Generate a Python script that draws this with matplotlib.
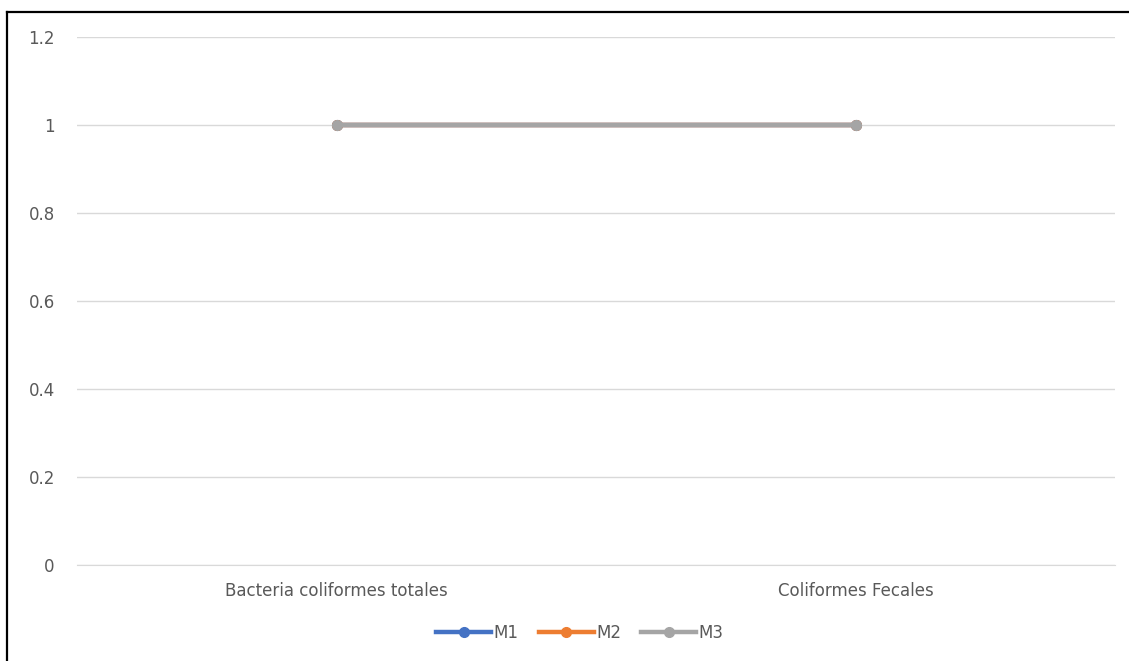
import matplotlib
matplotlib.use("Agg")
import matplotlib.pyplot as plt
from matplotlib.lines import Line2D

categories = ["Bacteria coliformes totales", "Coliformes Fecales"]
series_names = ["M1", "M2", "M3"]
m1 = [1, 1]
m2 = [1, 1]
m3 = [1, 1]
colors = ["#4472C4", "#ED7D31", "#A5A5A5"]
yticks = [0, 0.2, 0.4, 0.6, 0.8, 1, 1.2]
ytick_labels = ["0", "0.2", "0.4", "0.6", "0.8", "1", "1.2"]

W, H = 1129, 661
fig = plt.figure(figsize=(W / 100, H / 100), dpi=100)
ax = fig.add_axes([77 / W, 96 / H, (1115 - 77) / W, (565 - 37) / H])

x = list(range(len(categories)))
for vals, name, c in zip([m1, m2, m3], series_names, colors):
    ax.plot(x, vals, color=c, lw=3.2, marker="o", ms=7, label=name,
            solid_capstyle="round")

ax.set_xlim(-0.5, len(categories) - 0.5)
ax.set_ylim(0, 1.2)
ax.set_yticks(yticks)
ax.set_yticklabels(ytick_labels)
ax.set_xticks(x)
ax.set_xticklabels(categories)
ax.grid(axis="y", color="#D9D9D9", lw=1)
ax.set_axisbelow(True)
for s in ["top", "right", "left"]:
    ax.spines[s].set_visible(False)
ax.spines["bottom"].set_color("#D9D9D9")
ax.tick_params(axis="both", length=0, labelsize=12, labelcolor="#595959")
ax.tick_params(axis="y", pad=16)
ax.tick_params(axis="x", pad=12)

handles = [Line2D([0], [0], color=c, lw=3.2, marker="o", ms=7) for c in colors]
fig.legend(handles, series_names, loc="center", bbox_to_anchor=(580 / W, 1 - 633 / H),
           ncol=3, frameon=False, fontsize=12, labelcolor="#595959",
           handlelength=3.3, handletextpad=0.15, columnspacing=1.2)

# outer border (left and top)
fig.add_artist(Line2D([7 / W, 7 / W], [0, 1 - 12 / H], color="black", lw=1.6,
                      transform=fig.transFigure))
fig.add_artist(Line2D([7 / W, 1], [1 - 12 / H, 1 - 12 / H], color="black", lw=1.6,
                      transform=fig.transFigure))

fig.savefig("out.png", dpi=100)
